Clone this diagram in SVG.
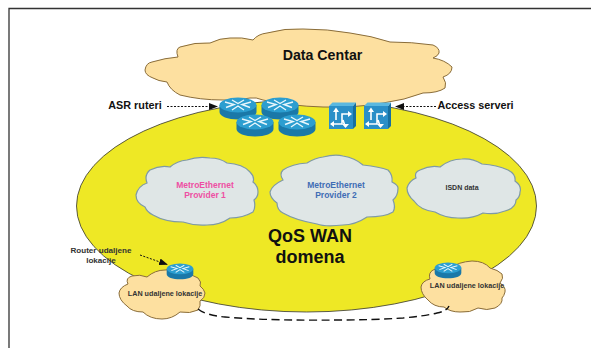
<svg xmlns="http://www.w3.org/2000/svg" width="591" height="348" viewBox="0 0 591 348">
<style>
text{font-family:"Liberation Sans",Arial,sans-serif;font-weight:bold;text-anchor:middle;fill:#111}
.lbl{font-size:10.800px}
.sm{font-size:7.200px;fill:#333}
.rl{font-size:8.100px;fill:#333}
.big{font-size:18px}
.dc{fill:#fde0a0;stroke:#8a6d3a;stroke-width:1}
.gc{fill:#dfe6e6;stroke:#7f9aa5;stroke-width:1.200}
.arrow{fill:none;stroke:#111;stroke-width:1;stroke-dasharray:2 1.500}
</style>
<defs>
<marker id="ah" markerWidth="9" markerHeight="7" refX="8" refY="3.500" orient="auto" markerUnits="userSpaceOnUse"><path d="M0 0L9 3.500L0 7z" fill="#111"/></marker>
<g id="router">
<path d="M-18.500 -3V4C-18.500 8.500 -10 11.500 0 11.500S18.500 8.500 18.500 4V-3z" fill="#1a78a8"/>
<ellipse cx="0" cy="-3" rx="18.500" ry="7.500" fill="#2c9ed0"/>
<path d="M-13 -6L-4 -3.500L-12 -.5M13 -6L4 -3.500L12 -.5M-6 -8L0 -4.500L6 -8M-6 2L0 -2L6 2" fill="none" stroke="#e8f6fc" stroke-width="1.400"/>
</g>
<g id="sw">
<path d="M24 0L27 -3.500V20L24 23z" fill="#176f9f"/>
<path d="M0 0L3.500 -3.500H27L24 0z" fill="#5bb8e0"/>
<rect width="24" height="23" fill="#2a8fc8"/>
<path d="M7 5V14M2 18H13V8H20M14 14L16 20" fill="none" stroke="#fff" stroke-width="1.600"/>
<path d="M7 1.500L4 6H10zM1 18L5 15V21zM23 8L19 5V11zM16.500 22L13 18H20z" fill="#fff"/>
</g>
</defs>
<rect width="591" height="348" fill="#fff"/>
<path d="M9 348V8.500H591" fill="none" stroke="#333" stroke-width="1.300"/>
<g id="qos-domain">
<ellipse cx="306.500" cy="206" rx="230" ry="106" fill="#eee825" stroke="#333" stroke-width=".8"/>
<text class="big" x="310" y="242">QoS WAN</text>
<text class="big" x="310" y="263">domena</text>
</g>
<g id="data-center">
<path class="dc" d="M145 70Q146 63 152 62Q165 58 178 57Q175 49 180 47Q195 42 210 43Q220 38 230 38Q242 37 253 40Q258 34 267 33Q285 28 303 29Q328 29 350 33Q372 36 390 42Q412 42 433 45Q440 48 439 53Q438 56 433 58Q445 60 452 67Q452 74 443 77Q447 83 445 88Q438 93 423 93Q405 100 383 103Q355 108 323 107Q290 106 263 100Q256 97 250 98Q236 101 223 100Q200 100 180 95Q170 90 167 82Q158 81 153 78Q145 75 145 70Z"/>
<text x="322.500" y="60" style="font-size:14.200px">Data Centar</text>
</g>
<g id="provider-1">
<path class="gc" d="M136 195Q138 186 147 183Q144 175 150 170Q160 165 170 167Q177 161 187 160Q198 156 210 158Q220 158 227 163Q243 164 250 172Q255 177 253 182Q258 186 258 192Q258 197 254 200Q256 207 253 212Q243 218 230 218Q220 225 207 225Q195 226 183 222Q165 222 153 215Q147 212 145 207Q136 203 136 195Z"/>
<text x="205" y="188" style="font-size:8.500px;fill:#ee4fa3">MetroEthernet</text>
<text x="205" y="198" style="font-size:8.500px;fill:#ee4fa3">Provider 1</text>
</g>
<g id="provider-2">
<path class="gc" d="M270 192Q272 185 283 180Q279 174 283 170Q292 164 307 163Q315 158 323 157Q335 154 343 156Q355 158 363 165Q380 167 388 170Q393 175 392 182Q398 185 398 188Q398 196 393 200Q396 207 393 212Q385 217 367 217Q355 225 343 225Q325 227 317 224Q295 220 283 213Q277 210 277 203Q270 198 270 192Z"/>
<text x="336" y="188" style="font-size:8.500px;fill:#3f6db5">MetroEthernet</text>
<text x="336" y="198" style="font-size:8.500px;fill:#3f6db5">Provider 2</text>
</g>
<g id="isdn-data">
<path class="gc" d="M407 188Q409 181 416 178Q414 172 420 170Q430 165 440 167Q450 159 462 159Q472 158 482 164Q497 165 508 170Q516 174 515 181Q522 186 520 192Q520 197 516 200Q516 208 505 211Q495 215 483 213Q472 219 458 218Q445 218 435 212Q420 210 414 201Q407 195 407 188Z"/>
<text x="462" y="190" style="font-size:7px;fill:#333">ISDN data</text>
</g>
<g id="asr-routers">
<use href="#router" x="238" y="108"/>
<use href="#router" x="280" y="108"/>
<use href="#router" x="255" y="125"/>
<use href="#router" x="297" y="125"/>
</g>
<g id="access-servers">
<use href="#sw" x="329" y="106"/>
<use href="#sw" x="364" y="106"/>
</g>
<g id="lan-left">
<path class="dc" d="M119 293Q120 287 128 284Q125 278 132 276Q140 274 147 277Q155 270 165 270Q172 268 180 272Q192 274 198 278Q202 282 200 286Q204 289 205 293Q205 298 200 301Q201 306 198 310Q190 314 180 312Q172 319 162 319Q150 319 143 312Q132 312 127 306Q119 300 119 293Z"/>
<text x="165" y="296" class="sm">LAN udaljene lokacije</text>
</g>
<g id="router-left"><use href="#router" transform="translate(180 271) scale(.72)"/></g>
<g id="lan-right">
<path class="dc" d="M421 287Q422 281 430 279Q428 273 433 270Q442 266 451 268Q458 262 472 261Q484 261 490 268Q498 270 502 274Q504 278 500 283Q506 287 505 292Q504 296 502 298Q503 304 495 308Q487 311 478 308Q470 313 460 312Q450 312 444 307Q434 307 428 300Q421 294 421 287Z"/>
<text x="467" y="288" class="sm">LAN udaljene lokacije</text>
</g>
<g id="router-right"><use href="#router" transform="translate(448 270) scale(.72)"/></g>
<g id="labels">
<text class="lbl" x="135" y="109">ASR ruteri</text>
<text class="lbl" x="475.500" y="109">Access serveri</text>
<text x="101" y="253" class="rl">Router udaljene</text>
<text x="101" y="263" class="rl">lokacije</text>
</g>
<g id="connectors">
<path class="arrow" marker-end="url(#ah)" d="M167 106.500H217"/>
<path class="arrow" marker-end="url(#ah)" d="M436 106.500H396"/>
<path class="arrow" marker-end="url(#ah)" d="M140 255L167 264.500"/>
<path d="M198 309Q205 315 225 317Q248 319 270 319.500Q305 320.500 337 320Q372 320 403 318Q425 316 437 313Q447 311 449 306" fill="none" stroke="#111" stroke-width="1.400" stroke-dasharray="8 4.500"/>
</g>
</svg>
